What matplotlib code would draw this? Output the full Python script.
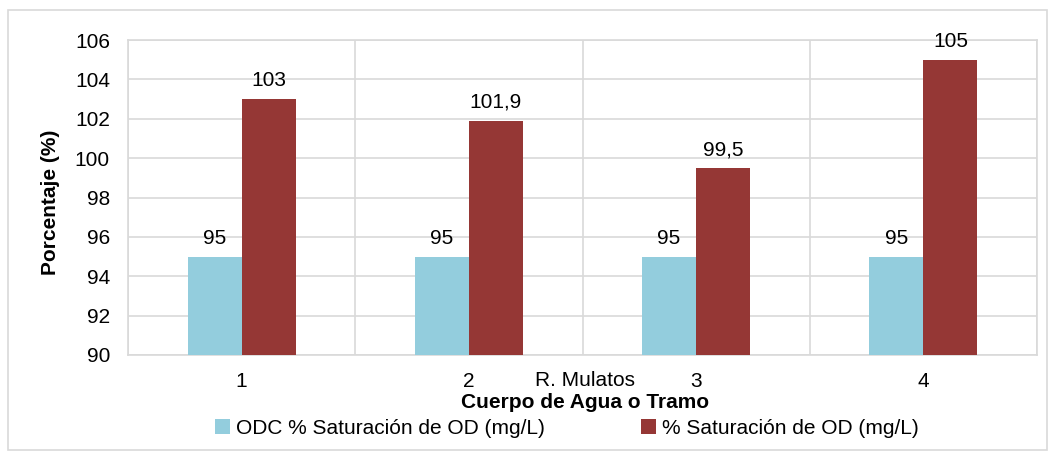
import matplotlib
matplotlib.use("Agg")
import matplotlib.pyplot as plt
from matplotlib.patches import Rectangle
import numpy as np

plt.rcParams['font.family'] = ['Liberation Sans', 'DejaVu Sans']

categories = ["1", "2", "3", "4"]
group_label = "R. Mulatos"
odc = [95, 95, 95, 95]
sat = [103, 101.9, 99.5, 105]
odc_labels = ["95", "95", "95", "95"]
sat_labels = ["103", "101,9", "99,5", "105"]
series_names = ["ODC % Saturación de OD (mg/L)", "% Saturación de OD (mg/L)"]
yticks = [90, 92, 94, 96, 98, 100, 102, 104, 106]

W, H = 1055, 457
fig = plt.figure(figsize=(W/100, H/100), dpi=100)
fig.patches.append(Rectangle((8/W, 1 - 450/H), (1047-8)/W, (450-10)/H,
                             transform=fig.transFigure, fill=False,
                             edgecolor='#d9d9d9', linewidth=1.2))
ax = fig.add_axes([128/W, 1 - 355/H, (1037-128)/W, (355-40)/H])

x = np.arange(len(categories))
bw = 0.238
c1, c2 = '#93cddd', '#953735'
ax.bar(x - bw/2, [v - 90 for v in odc], bw, bottom=90, color=c1, label=series_names[0], zorder=3)
ax.bar(x + bw/2, [v - 90 for v in sat], bw, bottom=90, color=c2, label=series_names[1], zorder=3)

fs = 15
for i in range(len(categories)):
    ax.text(x[i] - bw/2, odc[i] + 0.45, odc_labels[i], ha='center', va='bottom', fontsize=fs)
    ax.text(x[i] + bw/2, sat[i] + 0.45, sat_labels[i], ha='center', va='bottom', fontsize=fs)

ax.set_xlim(-0.5, len(categories) - 0.5)
ax.set_ylim(90, 106)
ax.set_yticks(yticks)
ax.set_yticklabels([str(t) for t in yticks], fontsize=fs)
ax.set_xticks(x)
ax.set_xticklabels(categories, fontsize=fs)
ax.tick_params(axis='y', length=0, pad=13)
ax.tick_params(axis='x', length=0, pad=12)

ax.set_xticks(np.arange(-0.5, len(categories)), minor=True)
ax.grid(True, axis='y', color='#d9d9d9', linewidth=1.2, zorder=0)
ax.grid(True, axis='x', which='minor', color='#d9d9d9', linewidth=1.2, zorder=0)
ax.grid(False, axis='x', which='major')
ax.tick_params(axis='x', which='minor', length=0)
for s in ax.spines.values():
    s.set_color('#d9d9d9')
    s.set_linewidth(1.2)

fig.text(585/W, 1 - 380/H, group_label, ha='center', va='center', fontsize=fs)
fig.text(585/W, 1 - 402/H, "Cuerpo de Agua o Tramo", ha='center', va='center', fontsize=fs, fontweight='bold')
fig.text(51/W, 1 - 202/H, "Porcentaje (%)", ha='center', va='center', rotation=90, fontsize=fs, fontweight='bold')

ax.legend(loc='center', bbox_to_anchor=(567/W, 1 - 428/H), bbox_transform=fig.transFigure,
          ncol=2, frameon=False, fontsize=fs, handlelength=0.7, handleheight=0.7,
          handletextpad=0.3, columnspacing=4.6)

fig.savefig("out.png", dpi=100)
